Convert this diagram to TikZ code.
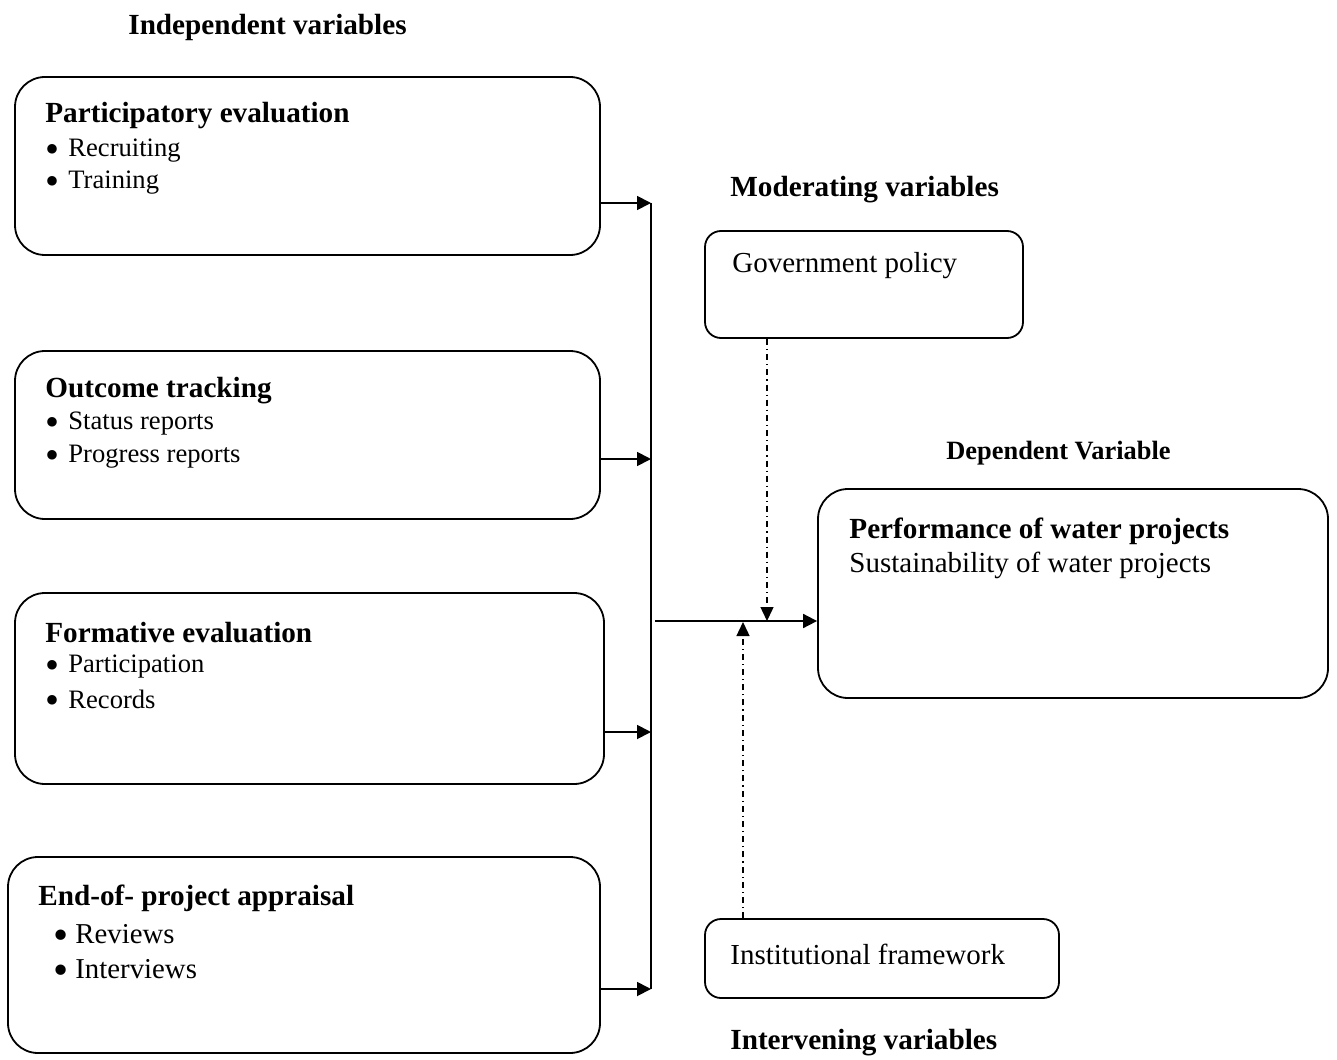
\documentclass[tikz,border=0pt]{standalone}
\usepackage{fontspec}
\setmainfont{Liberation Serif}
\usetikzlibrary{arrows.meta}
\newcommand{\bul}[1]{\makebox[#1][l]{\raisebox{-0.2em}[0pt][0pt]{\scalebox{1.5}{\textbullet}}}}
\begin{document}
\begin{tikzpicture}[x=0.5pt,y=-0.5pt,
  bigbox/.style={draw,line width=0.9pt,rounded corners=15pt,inner sep=0pt},
  smallbox/.style={draw,line width=0.9pt,rounded corners=8pt,inner sep=0pt},
  head/.style={anchor=west,inner sep=0pt,font=\fontsize{14.6}{16}\selectfont\bfseries},
  item/.style={anchor=west,inner sep=0pt,font=\fontsize{13.3}{15}\selectfont},
  itemb/.style={anchor=west,inner sep=0pt,font=\fontsize{14.4}{16}\selectfont},
  txt/.style={anchor=west,inner sep=0pt,font=\fontsize{14.5}{16}\selectfont},
  arr/.style={line width=0.9pt,-{Triangle[length=7pt,width=7pt]}},
  dd/.style={line width=0.7pt,dash pattern=on 3pt off 2pt on 0.6pt off 2pt,-{Triangle[length=7pt,width=6.5pt]}}]
\useasboundingbox (0,0) rectangle (1337,1059);
% boxes
\node[bigbox,minimum width=292.5pt,minimum height=89pt] (b1) at (307.5,166) {};
\node[bigbox,minimum width=292.5pt,minimum height=84pt] (b2) at (307.5,435) {};
\node[bigbox,minimum width=294.5pt,minimum height=95.5pt] (b3) at (309.5,688.5) {};
\node[bigbox,minimum width=296pt,minimum height=98pt] (b4) at (304,955) {};
\node[smallbox,minimum width=159pt,minimum height=53.5pt] (gov) at (864,284.5) {};
\node[bigbox,minimum width=255pt,minimum height=104.5pt] (dep) at (1073,593.5) {};
\node[smallbox,minimum width=177pt,minimum height=39.5pt] (inst) at (882,958.5) {};
% headings
\node[head] (hind) at (128,27) {Independent variables};
\node[head] (hmod) at (730,190) {Moderating variables};
\node[head,font=\fontsize{13.2}{15}\selectfont\bfseries] (hdep) at (946,453) {Dependent Variable};
\node[head] (hint) at (730,1043) {Intervening variables};
% box texts
\node[head] (t1) at (45,116) {Participatory evaluation};
\node[item] (t1a) at (45,151) {\bul{11.5pt}Recruiting};
\node[item] (t1b) at (45,183) {\bul{11.5pt}Training};
\node[head] (t2) at (45,391) {Outcome tracking};
\node[item] (t2a) at (45,424) {\bul{11.5pt}Status reports};
\node[item] (t2b) at (45,457) {\bul{11.5pt}Progress reports};
\node[head] (t3) at (45,633) {Formative evaluation};
\node[item] (t3a) at (45,667) {\bul{11.5pt}Participation};
\node[item] (t3b) at (45,699) {\bul{11.5pt}Records};
\node[head] (t4) at (38,898) {End-of- project appraisal};
\node[itemb] (t4a) at (53,934) {\bul{11pt}Reviews};
\node[itemb] (t4b) at (53,969) {\bul{11pt}Interviews};
\node[txt] (tgov) at (732,266) {Government policy};
\node[head] (tdep) at (849,531) {Performance of water projects};
\node[txt] (tdep2) at (849,565) {Sustainability of water projects};
\node[txt] (tinst) at (730,954) {Institutional framework};
% bus
\coordinate (p1) at (651,203);
\coordinate (p2) at (651,459);
\coordinate (p3) at (651,732);
\coordinate (p4) at (651,989);
\draw[line width=0.9pt] (p1) -- (p4);
\draw[arr] (b1.east |- p1) -- (p1);
\draw[arr] (b2.east |- p2) -- (p2);
\draw[arr] (b3.east |- p3) -- (p3);
\draw[arr] (b4.east |- p4) -- (p4);
\coordinate (s) at (655,621);
\draw[arr] (s) -- (dep.west |- s);
\coordinate (m1) at (767,621);
\coordinate (m2) at (743,622);
\draw[dd] (gov.south -| m1) -- (m1);
\draw[dd] (inst.north -| m2) -- (m2);
\end{tikzpicture}
\end{document}
